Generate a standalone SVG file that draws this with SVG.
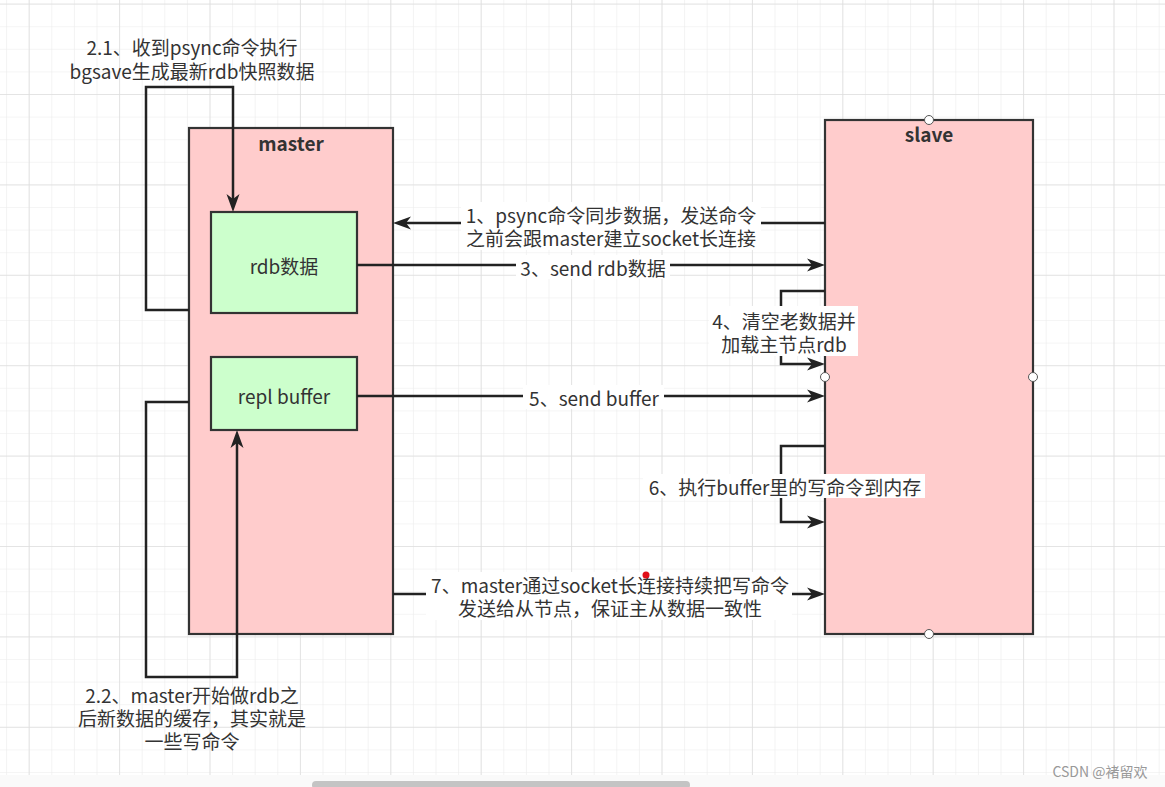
<svg xmlns="http://www.w3.org/2000/svg" width="1165" height="787" viewBox="0 0 1165 787">
<defs>
<pattern id="minor" x="28.7" y="3.6" width="22.6" height="22.6" patternUnits="userSpaceOnUse">
<path d="M0,0 H22.6 M0,0 V22.6" stroke="#ececec" stroke-width="1.2" fill="none"/>
</pattern>
<pattern id="major" x="28.7" y="3.6" width="90.4" height="90.4" patternUnits="userSpaceOnUse">
<path d="M0,0 H90.4 M0,0 V90.4" stroke="#dedede" stroke-width="1.5" fill="none"/>
</pattern>
<marker id="ah" viewBox="0 0 18 14" markerWidth="18" markerHeight="14" refX="11" refY="7" orient="auto" markerUnits="userSpaceOnUse">
<path d="M0,0.5 L18,7 L0,13.5 L5,7 Z" fill="#222"/>
</marker>
<style>
.box{stroke:#333;stroke-width:2.2}
.master{fill:#ffcccc}
.inner{fill:#ccffcc}
.t{font-family:"Noto Sans CJK SC","Noto Sans",sans-serif;font-size:19px;fill:#333;text-anchor:middle;dominant-baseline:central}
.b{font-weight:bold}
.edge{fill:none;stroke:#222;stroke-width:2.5}
.lbg{fill:#ffffff}
.pt{fill:#fff;stroke:#555;stroke-width:1}
</style>
</defs>
<rect width="1165" height="787" fill="#ffffff"/>
<rect width="1165" height="787" fill="url(#minor)"/>
<rect width="1165" height="787" fill="url(#major)"/>

<g id="master">
<rect class="box master" x="189" y="128" width="204" height="506"/>
<text class="t b" x="291" y="142">master</text>
</g>
<g id="slave">
<rect class="box master" x="825" y="120" width="208" height="514"/>
<text class="t b" x="929" y="133">slave</text>
<circle class="pt" cx="929" cy="120" r="4.5"/>
<circle class="pt" cx="929" cy="634" r="4.5"/>
<circle class="pt" cx="825" cy="377" r="4.5"/>
<circle class="pt" cx="1033" cy="377" r="4.5"/>
</g>
<g id="rdb">
<rect class="box inner" x="211" y="212" width="146" height="101"/>
<text class="t" x="284" y="265">rdb数据</text>
</g>
<g id="repl-buffer">
<rect class="box inner" x="211" y="357" width="146" height="73"/>
<text class="t" x="284" y="395">repl buffer</text>
</g>

<g id="connectors">
<path class="edge" d="M189,310 H146 V87 H233 V205" marker-end="url(#ah)"/>
<path class="edge" d="M189,402 H146 V677 H237 V437" marker-end="url(#ah)"/>
<path class="edge" d="M825,223 H400" marker-end="url(#ah)"/>
<path class="edge" d="M357,265 H818" marker-end="url(#ah)"/>
<path class="edge" d="M825,291 H781 V364 H818" marker-end="url(#ah)"/>
<path class="edge" d="M357,396 H818" marker-end="url(#ah)"/>
<path class="edge" d="M825,446 H781 V522 H818" marker-end="url(#ah)"/>
<path class="edge" d="M393,594 H818" marker-end="url(#ah)"/>
</g>

<g id="labels">
<text class="t" x="192" y="46">2.1、收到psync命令执行</text>
<text class="t" x="192" y="70">bgsave生成最新rdb快照数据</text>

<text class="t" x="192" y="694">2.2、master开始做rdb之</text>
<text class="t" x="192" y="717">后新数据的缓存，其实就是</text>
<text class="t" x="192" y="740">一些写命令</text>

<rect class="lbg" x="461" y="202" width="300" height="48"/>
<text class="t" x="611" y="214">1、psync命令同步数据，发送命令</text>
<text class="t" x="611" y="237">之前会跟master建立socket长连接</text>

<rect class="lbg" x="516" y="255" width="154" height="24"/>
<text class="t" x="593" y="267">3、send rdb数据</text>

<rect class="lbg" x="709" y="306" width="149" height="50"/>
<text class="t" x="784" y="320">4、清空老数据并</text>
<text class="t" x="784" y="343">加载主节点rdb</text>

<rect class="lbg" x="523" y="385" width="141" height="24"/>
<text class="t" x="594" y="397">5、send buffer</text>

<rect class="lbg" x="643" y="474" width="282" height="24"/>
<text class="t" x="785" y="486">6、执行buffer里的写命令到内存</text>

<rect class="lbg" x="426" y="572" width="366" height="48"/>
<text class="t" x="610" y="584">7、master通过socket长连接持续把写命令</text>
<text class="t" x="610" y="607">发送给从节点，保证主从数据一致性</text>
</g>

<circle cx="646" cy="575" r="3.5" fill="#e0101a"/>
<rect x="0" y="775" width="1165" height="12" fill="#fafafa"/>
<rect x="312" y="781" width="378" height="8" rx="4" fill="#c4c4c4"/>
<text x="1100" y="771" font-family="Noto Sans CJK SC, sans-serif" font-size="14" fill="#999" text-anchor="middle" dominant-baseline="central">CSDN @褚留欢</text>
</svg>
